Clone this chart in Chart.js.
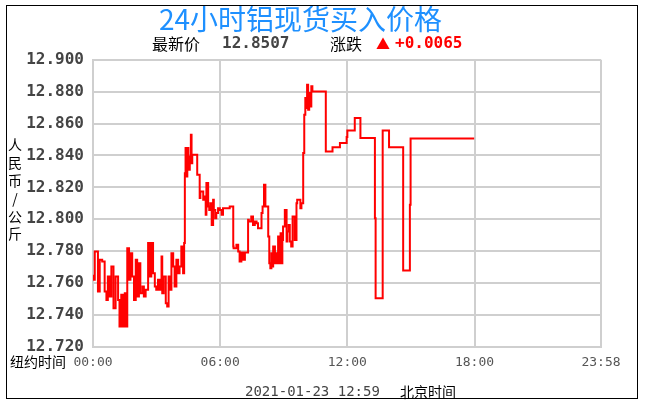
<!DOCTYPE html>
<html>
<head>
<meta charset="utf-8">
<script src="https://cdn.jsdelivr.net/npm/chart.js@4/dist/chart.umd.min.js"></script>
<style>
html,body{margin:0;padding:0;background:#fff;}
#wrap{position:relative;width:645px;height:414px;}
</style>
</head>
<body>
<div id="wrap"><canvas id="c" width="645" height="414"></canvas></div>
<script>
// ---- data (minutes since 00:00 New York time, price in CNY/kg) ----
const times = [0,5,14,19,26,33,38,42,47,52,58,64,71,75,80,85,90,94,97,102,106,111,116,121,125,130,134,140,144,149,156,160,165,170,175,179,184,189,194,196,200,206,210,214,217,222,227,231,236,241,245,250,255,258,260,262,264,267,270,274,277,279,281,285,295,297,302,304,312,316,319,321,326,329,332,336,340,342,346,349,354,359,364,368,378,387,397,398,406,411,415,420,425,430,434,439,441,448,453,458,463,467,472,477,480,484,488,491,496,499,502,505,508,510,515,517,521,524,527,531,533,536,538,543,548,550,554,557,561,565,567,571,576,578,582,587,590,595,598,601,604,606,609,612,616,618,621,625,659,661,678,680,699,702,718,720,724,741,743,757,760,798,800,803,820,821,838,840,878,879,897,899,902,1079];
const prices = [12.7652,12.7621,12.7798,12.7547,12.7746,12.7736,12.7547,12.7495,12.7641,12.7516,12.7704,12.7443,12.7641,12.7495,12.7328,12.7527,12.7328,12.7537,12.7328,12.7819,12.7621,12.7788,12.7641,12.7495,12.7746,12.7516,12.7725,12.7537,12.7579,12.7516,12.7558,12.7851,12.7641,12.7851,12.7662,12.7579,12.7558,12.7621,12.7558,12.7767,12.7537,12.7641,12.7474,12.7453,12.7641,12.7558,12.7788,12.7704,12.7579,12.7746,12.7662,12.7704,12.7830,12.7662,12.7851,12.8289,12.8446,12.8268,12.8446,12.8310,12.8394,12.8530,12.8352,12.8404,12.8404,12.8279,12.8279,12.8133,12.8174,12.8122,12.8143,12.8028,12.8227,12.8080,12.8059,12.8101,12.7965,12.8122,12.8059,12.8007,12.8039,12.8070,12.8059,12.8028,12.8070,12.8070,12.8080,12.7830,12.7819,12.7840,12.7798,12.7736,12.7792,12.7746,12.7792,12.7792,12.7997,12.7986,12.8018,12.7965,12.7986,12.7976,12.7944,12.7944,12.8039,12.8080,12.8216,12.8080,12.8080,12.7892,12.7725,12.7694,12.7788,12.7704,12.7830,12.7725,12.7788,12.7725,12.7892,12.7725,12.7913,12.7725,12.7871,12.7955,12.8059,12.7861,12.7923,12.7965,12.7861,12.7830,12.8018,12.8018,12.7871,12.8101,12.8122,12.8122,12.8070,12.8101,12.8415,12.8655,12.8760,12.8697,12.8843,12.8687,12.8791,12.8707,12.8833,12.8801,12.8801,12.8425,12.8425,12.8452,12.8452,12.8478,12.8478,12.8515,12.8557,12.8557,12.8634,12.8634,12.8509,12.8509,12.8007,12.7506,12.7506,12.8557,12.8557,12.8452,12.8452,12.7679,12.7679,12.8091,12.8507,12.8507];
const xTickValues = [0,360,720,1080,1438];
const xTickLabels = ['00:00','06:00','12:00','18:00','23:58'];
const yTickValues = [12.72,12.74,12.76,12.78,12.80,12.82,12.84,12.86,12.88,12.90];
const titleText = '24小时铝现货买入价格';
const latestLabel = '最新价';
const latestValue = '12.8507';
const changeLabel = '涨跌';
const changeValue = '+0.0065';
const yAxisTitle = ['人','民','币','/','公','斤'];
const xAxisLeftLabel = '纽约时间';
const footerTime = '2021-01-23 12:59';
const footerZone = '北京时间';

const points = times.map((t,i)=>({x:t,y:prices[i]}));

const CJK = '"Noto Sans CJK SC", sans-serif';
const MONO = '"DejaVu Sans Mono", monospace';

const decor = {
  id:'decor',
  afterDraw(chart){
    const ctx = chart.ctx;
    ctx.save();
    // outer frame
    ctx.strokeStyle = '#000';
    ctx.lineWidth = 1;
    ctx.strokeRect(6.5,5.5,631,393);
    ctx.textBaseline = 'middle';
    ctx.textAlign = 'left';
    // subtitle line
    const sy = 44;
    ctx.fillStyle = '#000';
    ctx.font = '16px ' + CJK;
    ctx.fillText(latestLabel,152,sy);
    ctx.fillStyle = '#444';
    ctx.font = 'bold 16px ' + MONO;
    ctx.fillText(latestValue,222,sy);
    ctx.fillStyle = '#000';
    ctx.font = '16px ' + CJK;
    ctx.fillText(changeLabel,330,sy);
    ctx.fillStyle = '#ff0000';
    ctx.font = '14px ' + CJK;
    ctx.fillText('▲',376,sy);
    ctx.font = 'bold 16px ' + MONO;
    ctx.fillText(changeValue,395,sy);
    // stacked y-axis title
    ctx.fillStyle = '#000';
    ctx.font = '14px ' + CJK;
    ctx.textAlign = 'center';
    yAxisTitle.forEach((ch,i)=>{ ctx.fillText(ch,15,145 + i*17.8); });
    // x axis left label
    ctx.textAlign = 'left';
    ctx.fillText(xAxisLeftLabel,10,362);
    // footer
    ctx.fillStyle = '#444';
    ctx.font = '14px ' + MONO;
    ctx.fillText(footerTime,245,392);
    ctx.fillStyle = '#000';
    ctx.font = '14px ' + CJK;
    ctx.fillText(footerZone,400,392);
    ctx.restore();
  }
};

new Chart(document.getElementById('c'),{
  type:'line',
  data:{datasets:[{
    data:points,
    borderColor:'#ff0000',
    borderWidth:2,
    pointRadius:0,
    stepped:'after',
    fill:false
  }]},
  options:{
    responsive:false,
    animation:false,
    layout:{padding:{left:0,right:44,top:0,bottom:0}},
    plugins:{
      legend:{display:false},
      tooltip:{enabled:false},
      title:{display:true,text:titleText,color:'#1E90FF',
        font:{family:'"Noto Sans CJK SC", sans-serif',size:28,weight:'normal'},
        padding:{top:3,bottom:23.1}}
    },
    scales:{
      x:{type:'linear',min:0,max:1438,
        afterBuildTicks(s){ s.ticks = xTickValues.map(v=>({value:v})); },
        afterFit(s){ s.height = 67; },
        grid:{color:'#cfcfcf',lineWidth:2,drawTicks:false},
        border:{color:'#cfcfcf',width:2},
        ticks:{padding:8,color:'#555',autoSkip:false,maxRotation:0,
          font:{family:'"DejaVu Sans Mono", monospace',size:13},
          callback:(v,i)=>xTickLabels[i]}
      },
      y:{type:'linear',min:12.72,max:12.90,
        afterBuildTicks(s){ s.ticks = yTickValues.map(v=>({value:v})); },
        afterFit(s){ s.width = 93; },
        grid:{color:'#cfcfcf',lineWidth:2,drawTicks:false},
        border:{color:'#cfcfcf',width:2},
        ticks:{padding:9,color:'#444',
          font:{family:'"DejaVu Sans Mono", monospace',size:16,weight:'bold'},
          callback:(v)=>Number(v).toFixed(3)}
      }
    }
  },
  plugins:[decor]
});
</script>
</body>
</html>
